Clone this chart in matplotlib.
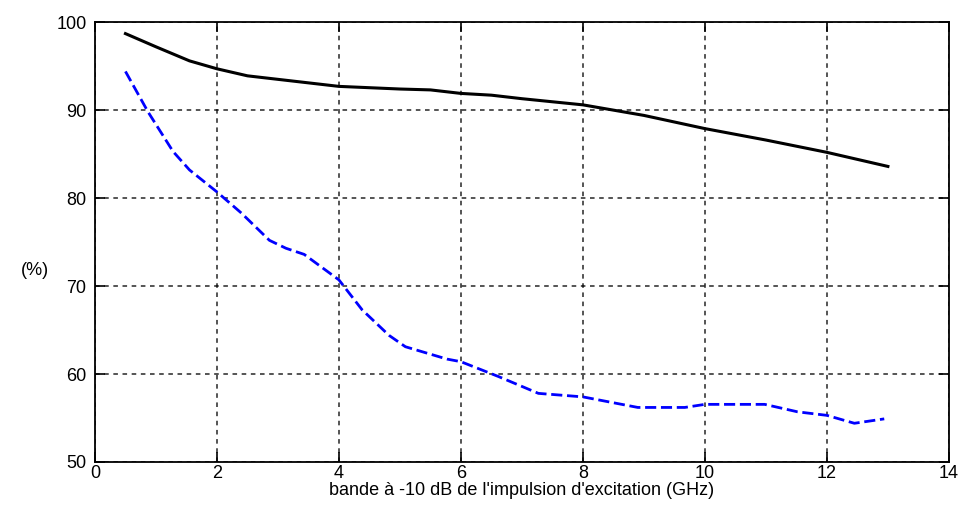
import matplotlib
matplotlib.use("Agg")
import matplotlib.pyplot as plt

# bandwidth of the excitation pulse (GHz)
x_black = [0.5, 1.0, 1.55, 2.0, 2.5, 3.0, 4.0, 5.0, 5.5, 6.0, 6.5, 7.0, 8.0, 9.0, 10.0, 11.0, 12.0, 13.0]
y_black = [98.7, 97.2, 95.6, 94.7, 93.9, 93.5, 92.7, 92.4, 92.3, 91.9, 91.7, 91.3, 90.6, 89.4, 87.9, 86.6, 85.2, 83.6]

x_blue = [0.5, 0.87, 1.28, 1.55, 2.0, 2.4, 2.86, 3.13, 3.43, 4.0, 4.38, 4.82, 5.09, 5.77, 6.0,
          6.62, 7.27, 8.0, 8.9, 9.67, 10.0, 10.98, 11.52, 12.0, 12.45, 12.94]
y_blue = [94.4, 89.8, 85.3, 83.2, 80.7, 78.3, 75.2, 74.3, 73.6, 70.7, 67.3, 64.4, 63.1, 61.7, 61.4,
          59.7, 57.8, 57.4, 56.2, 56.2, 56.55, 56.55, 55.7, 55.3, 54.4, 54.9]

xticks = [0, 2, 4, 6, 8, 10, 12, 14]
yticks = [50, 60, 70, 80, 90, 100]

plt.rcParams['font.family'] = ['Liberation Sans', 'DejaVu Sans']

fig = plt.figure(figsize=(9.66, 5.12), dpi=100)
ax = fig.add_axes([0.0983, 0.0977, 0.884, 0.859])

ax.plot(x_black, y_black, color='black', linewidth=2.2)
ax.plot(x_blue, y_blue, color='blue', linewidth=2.0, linestyle=(0, (4, 1.7)))

ax.set_xlim(0, 14)
ax.set_ylim(50, 100)
ax.set_xticks(xticks)
ax.set_yticks(yticks)
ax.tick_params(direction='in', length=7, width=1.2, labelsize=13,
               top=True, right=True)
ax.tick_params(axis='x', pad=2)
ax.tick_params(axis='y', pad=6)
ax.grid(True, color='black', linestyle=(0, (3, 3)), linewidth=1.1, alpha=0.85)
for s in ax.spines.values():
    s.set_linewidth(1.3)

ax.set_xlabel("bande à -10 dB de l'impulsion d'excitation (GHz)", fontsize=13, labelpad=0)
ax.set_ylabel("(%)", fontsize=13, rotation=0)
ax.yaxis.set_label_coords(-0.07, 0.415)

fig.savefig("out.png", dpi=100)
